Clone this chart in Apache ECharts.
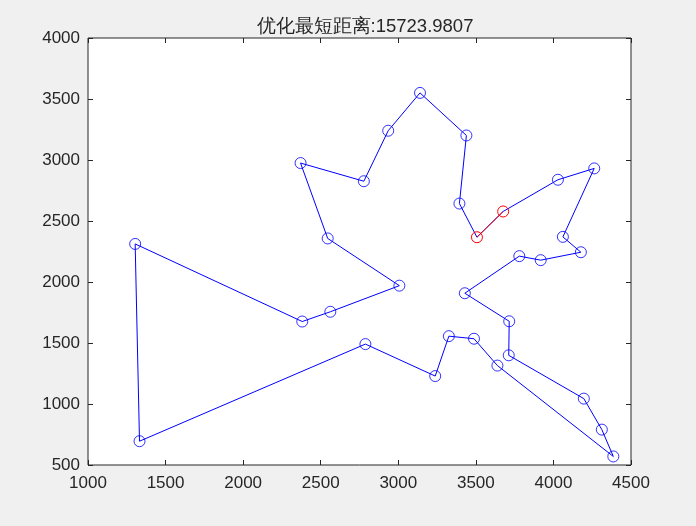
<!DOCTYPE html>
<html>
<head>
<meta charset="utf-8">
<script src="https://cdn.jsdelivr.net/npm/echarts@6/dist/echarts.min.js"></script>
<style>html,body{margin:0;padding:0;background:#f0f0f0;}#c{width:696px;height:526px;}</style>
</head>
<body>
<div id="c"></div>
<script>
// tour order (city coordinates), starting point first
var tourX = [3507, 3676, 4029, 4263, 4061, 4177, 3918, 3780, 3429, 3715, 3712, 4196, 4312, 4386, 3639, 3488, 3326, 3238, 2788, 1332, 1304, 2381, 2562, 3007, 2545, 2370, 2778, 2935, 3140, 3439, 3394, 3507];
var tourY = [2367, 2578, 2838, 2931, 2370, 2244, 2179, 2212, 1908, 1678, 1399, 1044, 790, 570, 1315, 1535, 1556, 1229, 1491, 695, 2312, 1676, 1756, 1970, 2357, 2975, 2826, 3240, 3550, 3201, 2643, 2367];
var xTicks = [1000, 1500, 2000, 2500, 3000, 3500, 4000, 4500];
var yTicks = [500, 1000, 1500, 2000, 2500, 3000, 3500, 4000];
var titleText = '优化最短距离:15723.9807';

var pts = tourX.map(function (x, i) { return [x, tourY[i]]; });
var startSeg = [pts[0], pts[1]];
var bluePts = pts.slice(2, pts.length - 1);
var fontFam = '"Liberation Sans", Arial, sans-serif';
var ink = '#262626';

var chart = echarts.init(document.getElementById('c'), null, {renderer: 'canvas'});
function axisBase(extra) {
  return Object.assign({
    type: 'value',
    axisLine: {show: false},
    axisTick: {show: true, inside: true, length: 5, lineStyle: {color: ink, width: 1}},
    splitLine: {show: false},
    axisLabel: {show: false}
  }, extra);
}
function plain(v) { return String(v); }
chart.setOption({
  backgroundColor: '#f0f0f0',
  animation: false,
  title: {
    text: titleText, left: 360, top: 12, textAlign: 'center',
    textStyle: {fontFamily: fontFam, fontSize: 18.5, fontWeight: 'normal', color: ink}
  },
  grid: {left: 88, right: 65, top: 38, bottom: 61, show: true, backgroundColor: '#ffffff', borderColor: ink, borderWidth: 1},
  xAxis: [
    axisBase({position: 'bottom', min: xTicks[0], max: xTicks[xTicks.length - 1], interval: 500,
      axisLabel: {show: true, color: ink, fontFamily: fontFam, fontSize: 17, margin: 10, formatter: plain}}),
    axisBase({position: 'top', min: xTicks[0], max: xTicks[xTicks.length - 1], interval: 500})
  ],
  yAxis: [
    axisBase({position: 'left', min: yTicks[0], max: yTicks[yTicks.length - 1], interval: 500,
      axisLabel: {show: true, color: ink, fontFamily: fontFam, fontSize: 17, margin: 8, formatter: plain}}),
    axisBase({position: 'right', min: yTicks[0], max: yTicks[yTicks.length - 1], interval: 500})
  ],
  series: [
    {type: 'line', data: pts, showSymbol: false, symbol: 'none', lineStyle: {color: '#0000ff', width: 1}, z: 2},
    {type: 'scatter', data: bluePts, symbol: 'circle', symbolSize: 11,
      itemStyle: {color: 'rgba(0,0,0,0)', borderColor: '#0000ff', borderWidth: 1}, z: 3},
    {type: 'line', data: startSeg, showSymbol: true, symbol: 'circle', symbolSize: 11,
      lineStyle: {color: '#ff0000', width: 1},
      itemStyle: {color: 'rgba(0,0,0,0)', borderColor: '#ff0000', borderWidth: 1}, z: 4}
  ]
});
</script>
</body>
</html>
